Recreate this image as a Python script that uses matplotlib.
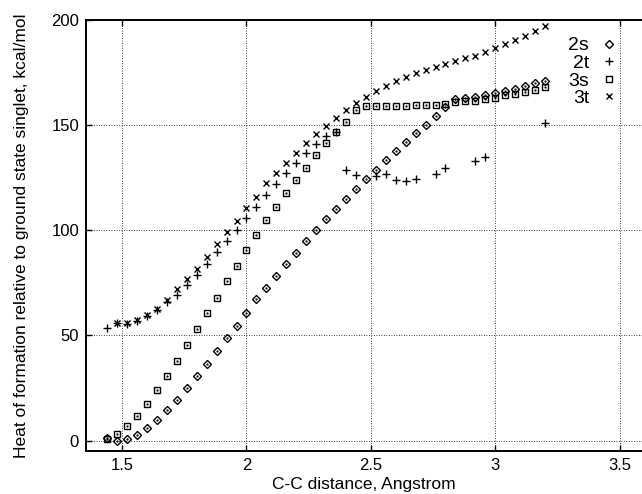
import numpy as np
import matplotlib.pyplot as plt
from matplotlib.lines import Line2D

plt.rcParams['font.family'] = ['Liberation Sans', 'DejaVu Sans']

dist = [1.44, 1.48, 1.52, 1.56, 1.60, 1.64, 1.68, 1.72, 1.76, 1.80, 1.84, 1.88,
        1.92, 1.96, 2.00, 2.04, 2.08, 2.12, 2.16, 2.20, 2.24, 2.28, 2.32, 2.36,
        2.40, 2.44, 2.48, 2.52, 2.56, 2.60, 2.64, 2.68, 2.72, 2.76, 2.80, 2.84,
        2.88, 2.92, 2.96, 3.00, 3.04, 3.08, 3.12, 3.16, 3.20]

e_2s = [1.0, 0.0, 0.7, 2.7, 5.9, 9.8, 14.3, 19.4, 24.8, 30.6, 36.5, 42.5,
        48.7, 54.4, 60.8, 67.1, 72.5, 78.2, 83.8, 89.2, 94.8, 100.0, 105.2, 110.1,
        114.8, 119.6, 124.2, 128.5, 133.1, 137.6, 141.8, 146.0, 150.2, 154.4, 158.5, 162.3,
        162.9, 163.5, 164.3, 165.0, 166.3, 167.2, 168.4, 169.8, 171.1]

e_3s = [0.8, 3.2, 6.8, 11.7, 17.5, 23.8, 30.6, 37.8, 45.2, 53.2, 60.6, 67.9,
        75.7, 82.9, 90.5, 97.6, 104.8, 110.8, 117.5, 123.8, 129.7, 135.6, 141.3, 146.5,
        151.6, 157.1, 158.8, 159.0, 159.0, 159.1, 159.2, 159.3, 159.4, 159.6, 160.0, 160.8,
        161.2, 161.6, 162.2, 162.8, 164.0, 164.8, 165.6, 166.6, 167.9]

dist_3t = dist[1:]
e_3t = [55.9, 55.9, 57.1, 59.5, 62.7, 66.7, 72.2, 76.7, 81.7, 87.3, 93.2,
        98.9, 104.4, 110.7, 115.9, 122.5, 127.0, 131.7, 136.5, 141.3, 145.6, 149.5, 153.4,
        157.1, 160.6, 163.5, 166.3, 168.6, 170.9, 172.7, 174.6, 176.2, 177.5, 178.9, 180.2,
        181.7, 183.0, 184.6, 186.5, 188.4, 190.2, 192.1, 194.8, 196.9]

dist_2t = [1.44, 1.48, 1.52, 1.56, 1.60, 1.64, 1.68, 1.72, 1.76, 1.80, 1.84, 1.88,
           1.92, 1.96, 2.00, 2.04, 2.08, 2.12, 2.16, 2.20, 2.24, 2.28, 2.32, 2.36,
           2.40, 2.44, 2.52, 2.56, 2.60, 2.64, 2.68, 2.76, 2.80, 2.92, 2.96, 3.20]
e_2t = [53.5, 55.9, 55.6, 56.8, 59.0, 61.9, 65.7, 69.2, 73.7, 78.6, 84.1, 89.5,
        94.9, 100.3, 106.0, 111.1, 116.7, 121.7, 127.0, 131.7, 136.5, 141.0, 144.8, 146.6,
        128.7, 126.1, 125.8, 126.6, 123.8, 123.5, 124.3, 126.5, 129.5, 132.9, 134.8, 150.8]

fig = plt.figure(figsize=(6.42, 4.94), dpi=100)
ax = fig.add_axes([0.134, 0.087, 0.866, 0.873])

ax.plot(dist, e_2s, 'D', ms=3.6, mfc='none', mec='k', mew=1.0, ls='none')
ax.plot(dist, e_2s, '.', ms=1.2, color='k', ls='none')
ax.plot(dist_2t, e_2t, '+', ms=5.5, color='k', mew=1.0, ls='none')
ax.plot(dist, e_3s, 's', ms=4.8, mfc='none', mec='k', mew=1.0, ls='none')
ax.plot(dist, e_3s, '.', ms=1.2, color='k', ls='none')
ax.plot(dist_3t, e_3t, 'x', ms=5, color='k', mew=1.0, ls='none')

ax.set_xlim(1.355, 3.59)
ax.set_ylim(-5, 200)
ax.set_xticks([1.5, 2, 2.5, 3, 3.5])
ax.set_xticklabels(['1.5', '2', '2.5', '3', '3.5'])
ax.set_yticks([0, 50, 100, 150, 200])
ax.tick_params(direction='in', length=4, width=1, labelsize=12, top=True, pad=5)
ax.grid(True, color='k', ls=(0, (1, 2)), lw=0.6)
for s in ['left', 'bottom', 'top']:
    ax.spines[s].set_linewidth(1.4)
ax.spines['right'].set_visible(False)

ax.set_xlabel('C-C distance, Angstrom', fontsize=12.5, labelpad=3)
ax.set_ylabel('Heat of formation relative to ground state singlet, kcal/mol', fontsize=12.5, labelpad=16)

handles = [
    Line2D([], [], marker='D', ms=3.6, mfc='none', mec='k', mew=1.0, ls='none'),
    Line2D([], [], marker='+', ms=5.5, color='k', mew=1.0, ls='none'),
    Line2D([], [], marker='s', ms=4.8, mfc='none', mec='k', mew=1.0, ls='none'),
    Line2D([], [], marker='x', ms=5, color='k', mew=1.0, ls='none'),
]
ax.legend(handles, ['2s', '2t', '3s', '3t'], loc='upper right', bbox_to_anchor=(0.982, 0.992),
          frameon=False, markerfirst=False, fontsize=14, handlelength=1.0,
          handletextpad=0.5, labelspacing=0.0, borderpad=0.2)

fig.savefig('out.png', dpi=100)
